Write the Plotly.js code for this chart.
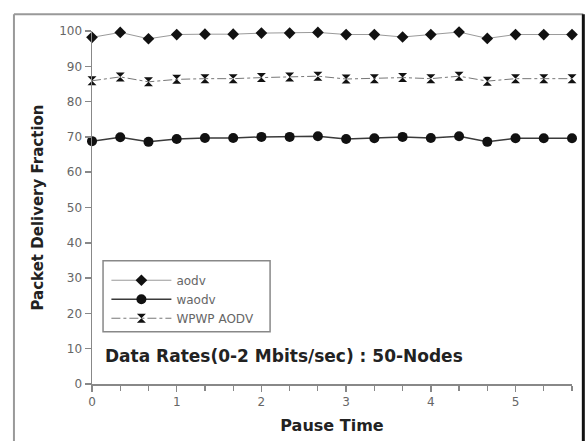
<!DOCTYPE html>
<html>
<head>
<meta charset="utf-8">
<script src="https://cdn.plot.ly/plotly-3.0.1.min.js"></script>
<style>html,body{margin:0;padding:0;background:#fff;}#chart{width:587px;height:441px;}</style>
</head>
<body>
<div id="chart"></div>
<script>
var pauseTime = [0, 1/3, 2/3, 1, 4/3, 5/3, 2, 7/3, 8/3, 3, 10/3, 11/3, 4, 13/3, 14/3, 5, 16/3, 17/3];
var aodv  = [98.2, 99.6, 97.8, 99.0, 99.1, 99.1, 99.4, 99.4, 99.6, 99.0, 99.0, 98.3, 99.0, 99.7, 97.9, 99.0, 99.0, 99.0];
var waodv = [68.8, 69.9, 68.6, 69.4, 69.7, 69.7, 70.0, 70.0, 70.2, 69.4, 69.6, 70.0, 69.7, 70.2, 68.6, 69.6, 69.6, 69.6];
var wpwp  = [85.9, 87.0, 85.6, 86.3, 86.5, 86.5, 86.8, 87.0, 87.2, 86.4, 86.5, 86.8, 86.5, 87.2, 85.8, 86.5, 86.5, 86.5];
var seriesNames = ["aodv", "waodv", "WPWP AODV"];
var xTicks = [0, 1, 2, 3, 4, 5];
var yTicks = [0, 10, 20, 30, 40, 50, 60, 70, 80, 90, 100];

var traces = [
  {x: pauseTime, y: aodv, name: seriesNames[0], mode: "lines+markers",
   line: {color: "#9a9a9a", width: 1},
   marker: {symbol: "diamond", size: 9, color: "#111"}, cliponaxis: false},
  {x: pauseTime, y: waodv, name: seriesNames[1], mode: "lines+markers",
   line: {color: "#3a3a3a", width: 1.5},
   marker: {symbol: "circle", size: 10, color: "#111"}, cliponaxis: false},
  {x: pauseTime, y: wpwp, name: seriesNames[2], mode: "lines+markers",
   line: {color: "#777", width: 1, dash: "dashdot"},
   marker: {symbol: "hourglass", size: 9, color: "#111"}, cliponaxis: false}
];

var layout = {
  width: 587, height: 441,
  margin: {l: 92, r: 15.3, t: 30.7, b: 56.7},
  paper_bgcolor: "#fff", plot_bgcolor: "#fff",
  showlegend: true,
  font: {family: "DejaVu Sans", color: "#555"},
  xaxis: {
    range: [0, 17/3], tickvals: xTicks, ticktext: xTicks.map(String),
    showgrid: false, zeroline: false, showline: true, linecolor: "#888", linewidth: 1.5,
    ticks: "outside", ticklen: 6, tickcolor: "#888", tickwidth: 1.5,
    minor: {dtick: 1/3, tick0: 0, ticks: "outside", ticklen: 5, tickcolor: "#888", tickwidth: 1.2, showgrid: false},
    tickfont: {size: 12, color: "#666"},
    title: {text: "Pause Time", font: {size: 16, color: "#222", family: "DejaVu Sans", weight: "bold"}, standoff: 12}
  },
  yaxis: {
    range: [0, 100], tickvals: yTicks, ticktext: yTicks.map(String),
    showgrid: false, zeroline: false, showline: true, linecolor: "#888", linewidth: 1.5,
    ticks: "outside", ticklen: 6, tickcolor: "#888", tickwidth: 1.5,
    tickfont: {size: 12, color: "#666"},
    title: {text: "Packet Delivery Fraction", font: {size: 15, color: "#222", family: "DejaVu Sans", weight: "bold"}, standoff: 12}
  },
  legend: {
    x: 0.03, y: 0.335, xanchor: "left", yanchor: "top",
    bgcolor: "rgba(0,0,0,0)", borderwidth: 0, itemwidth: 60,
    font: {size: 12, color: "#666"}, tracegroupgap: 0
  },
  shapes: [
    {type: "rect", xref: "paper", yref: "paper", x0: 0.023, x1: 0.371, y0: 0.148, y1: 0.349,
     line: {color: "#888", width: 1.5}},
    {type: "line", xref: "paper", yref: "paper", x0: -0.1626, x1: -0.1626, y0: 1.0472, y1: -0.2,
     line: {color: "#999", width: 2}},
    {type: "line", xref: "paper", yref: "paper", x0: -0.1626, x1: 1.0236, y0: 1.0472, y1: 1.0472,
     line: {color: "#999", width: 2}},
    {type: "line", xref: "paper", yref: "paper", x0: 1.0236, x1: 1.0236, y0: 1.0472, y1: -0.2,
     line: {color: "#111", width: 3}}
  ],
  annotations: [
    {xref: "paper", yref: "paper", x: 0.023, y: 0.08, xanchor: "left", yanchor: "middle",
     text: "Data Rates(0-2 Mbits/sec) : 50-Nodes", showarrow: false,
     font: {size: 17, color: "#222", family: "DejaVu Sans", weight: "bold"}}
  ]
};

Plotly.newPlot("chart", traces, layout, {displayModeBar: false, staticPlot: true});
</script>
</body>
</html>
